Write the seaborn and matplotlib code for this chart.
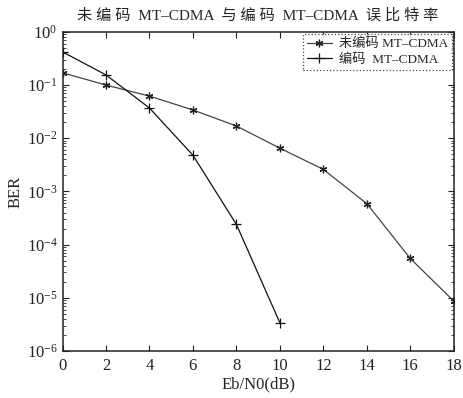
import matplotlib
matplotlib.use("Agg")
import matplotlib.pyplot as plt
import matplotlib.ticker as mtick
import numpy as np
import pandas as pd
import seaborn as sns

EBN0 = [0, 2, 4, 6, 8, 10, 12, 14, 16, 18]
BER_UNCODED = [0.17, 0.10, 0.062, 0.034, 0.017, 0.0065, 0.0026, 0.00059, 5.5e-5, 8.7e-6]
EBN0_CODED = [0, 2, 4, 6, 8, 10]
BER_CODED = [0.42, 0.155, 0.037, 0.0048, 0.00024, 3.4e-6]

LABEL_UNCODED = "未编码 MT–CDMA"
LABEL_CODED = "编码  MT–CDMA"
TITLE = "未 编 码  MT–CDMA  与 编 码  MT–CDMA  误 比 特 率"

sns.set_theme(style="ticks")
plt.rcParams["font.family"] = ["Liberation Serif", "Noto Sans CJK SC", "DejaVu Sans"]
plt.rcParams["mathtext.fontset"] = "stix"
plt.rcParams.update({
    "xtick.direction": "in",
    "ytick.direction": "in",
    "xtick.top": True,
    "ytick.right": True,
})

df_u = pd.DataFrame({"ebn0": EBN0, "ber": BER_UNCODED})
df_c = pd.DataFrame({"ebn0": EBN0_CODED, "ber": BER_CODED})

fig, ax = plt.subplots(figsize=(4.63, 3.98), dpi=100)
sns.lineplot(data=df_u, x="ebn0", y="ber", ax=ax, color="#444444", lw=0.9,
             marker=(6, 2, 0), markersize=5.5, markeredgewidth=0.9,
             markeredgecolor="#222222", label=LABEL_UNCODED)
sns.lineplot(data=df_c, x="ebn0", y="ber", ax=ax, color="#111111", lw=0.9,
             marker="+", markersize=7, markeredgewidth=0.9,
             markeredgecolor="#111111", label=LABEL_CODED)

ax.set_yscale("log")
ax.set_xlim(0, 18)
ax.set_ylim(1e-6, 1)
ax.set_xticks(range(0, 19, 2))
ax.yaxis.set_major_locator(mtick.LogLocator(base=10, numticks=10))
ax.yaxis.set_minor_locator(mtick.LogLocator(base=10, subs=np.arange(2, 10), numticks=10))
ax.yaxis.set_minor_formatter(mtick.NullFormatter())
ax.tick_params(which="major", length=4, width=0.8, labelsize=12, colors="#222222")
ax.tick_params(which="minor", length=2, width=0.6)
ax.tick_params(axis="x", pad=5)
for s in ax.spines.values():
    s.set_linewidth(1.1)
    s.set_color("#222222")

ax.set_xlabel("Eb/N0(dB)", fontsize=12, labelpad=2)
ax.set_ylabel("BER", fontsize=12, labelpad=2)
ax.set_title(TITLE, fontsize=11, pad=9)

leg = ax.legend(loc="upper right", fontsize=9.5, frameon=True, fancybox=False,
                borderpad=0.3, handlelength=1.9, handletextpad=0.5,
                labelspacing=0.25, borderaxespad=0.15)
leg.get_frame().set_edgecolor("#222222")
leg.get_frame().set_linestyle(":")
leg.get_frame().set_linewidth(0.9)

fig.subplots_adjust(left=0.135, right=0.98, top=0.92, bottom=0.118)
fig.savefig("out.png", dpi=100)
